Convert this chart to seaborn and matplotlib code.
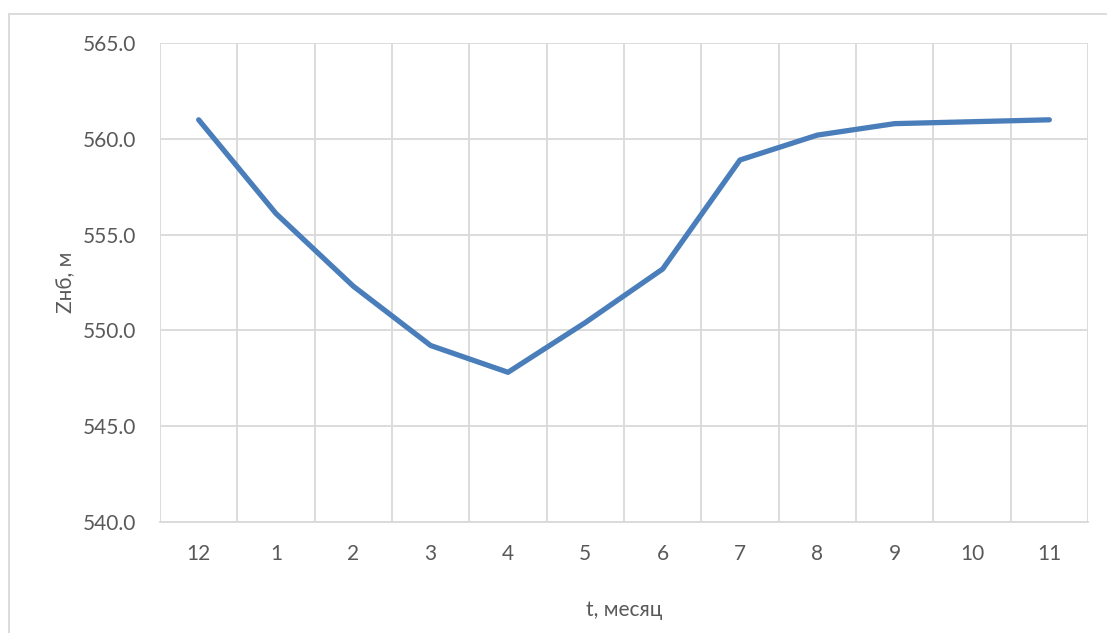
import matplotlib
matplotlib.use("Agg")
import matplotlib.pyplot as plt
import matplotlib.ticker as mticker
from matplotlib.patches import Rectangle
import seaborn as sns
import pandas as pd

# Monthly tailwater level (Zнб) over the year, December through November
months = ["12", "1", "2", "3", "4", "5", "6", "7", "8", "9", "10", "11"]
levels = [561.0, 556.1, 552.3, 549.2, 547.8, 550.4, 553.2, 558.9, 560.2, 560.8, 560.9, 561.0]

y_ticks = [540.0, 545.0, 550.0, 555.0, 560.0, 565.0]

df = pd.DataFrame({"month": months, "level": levels})

sns.set_theme(style="white")
plt.rcParams["font.family"] = ["Lato", "DejaVu Sans"]

grid_col = "#d9d9d9"
text_col = "#595959"
line_col = "#4a7ebb"

fig = plt.figure(figsize=(11.07, 6.33), dpi=100)
fig.patch.set_facecolor("white")
ax = fig.add_axes([160 / 1107, 1 - 521.5 / 633, (1088 - 160) / 1107, (521.5 - 43.3) / 633])

sns.lineplot(data=df, x="month", y="level", sort=False, ax=ax,
             color=line_col, linewidth=3.8, solid_capstyle="round",
             solid_joinstyle="round", zorder=3)

ax.set_xlim(-0.5, len(months) - 0.5)
ax.set_ylim(y_ticks[0], y_ticks[-1])
ax.set_yticks(y_ticks)
ax.yaxis.set_major_formatter(mticker.FormatStrFormatter("%.1f"))

# vertical grid between categories
ax.xaxis.set_minor_locator(mticker.FixedLocator([i - 0.5 for i in range(len(months) + 1)]))
ax.grid(which="minor", axis="x", color=grid_col, linewidth=1.3)
ax.grid(which="major", axis="y", color=grid_col, linewidth=1.3)
ax.grid(which="major", axis="x", visible=False)

for side in ["top", "right", "left"]:
    ax.spines[side].set_visible(False)
ax.spines["bottom"].set_color(grid_col)
ax.spines["bottom"].set_linewidth(1.3)

ax.tick_params(axis="both", which="both", length=0, labelsize=15, labelcolor=text_col)
ax.tick_params(axis="y", pad=17)
ax.tick_params(axis="x", pad=16)

ax.set_xlabel("t, месяц", fontsize=15, color=text_col, labelpad=26)
ax.set_ylabel("Zнб, м", fontsize=15, color=text_col, labelpad=5)

# chart area frame
fig.add_artist(Rectangle((9 / 1107, -0.2), 1.2, 1 - 14 / 633 + 0.2,
                         transform=fig.transFigure, fill=False,
                         edgecolor=grid_col, linewidth=1.3))

fig.savefig("out.png", dpi=100, facecolor="white")
